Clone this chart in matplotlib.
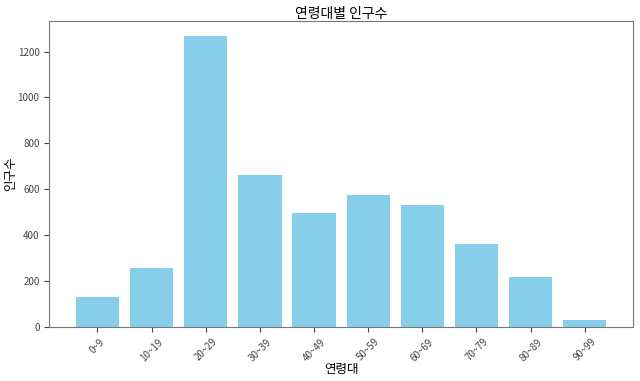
import matplotlib
matplotlib.use("Agg")
import matplotlib.pyplot as plt

plt.rcParams['font.family'] = ['Noto Sans CJK KR', 'DejaVu Sans']

age_groups = ['0~9', '10~19', '20~29', '30~39', '40~49', '50~59', '60~69', '70~79', '80~89', '90~99']
population = [130, 255, 1270, 660, 498, 577, 530, 362, 218, 31]

fig = plt.figure(figsize=(6.4, 3.81), dpi=100)
ax = fig.add_axes([0.077, 0.142, 0.912, 0.803])
ax.bar(age_groups, population, color='skyblue')
ax.set_title('연령대별 인구수', fontsize=10, pad=2)
ax.set_xlabel('연령대', fontsize=9, labelpad=0)
ax.set_ylabel('인구수', fontsize=9)
ax.yaxis.set_label_coords(-0.055, 0.5)
ax.tick_params(axis='x', rotation=45, labelsize=7, colors='#444444')
ax.tick_params(axis='y', labelsize=7, colors='#444444')
for s in ax.spines.values():
    s.set_color('#777777')
fig.savefig('out.png', dpi=100)
